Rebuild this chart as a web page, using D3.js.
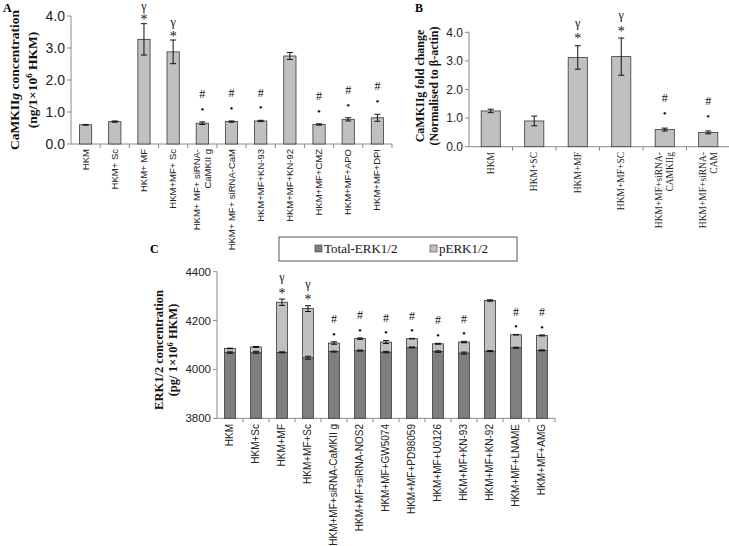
<!DOCTYPE html>
<html><head><meta charset="utf-8">
<script src="https://cdn.jsdelivr.net/npm/d3@7"></script>
<style>body{margin:0;background:#fff}svg{display:block}</style>
</head><body>
<script>
// ---------- Panel A data ----------
const catsA = ["HKM","HKM+ Sc","HKM+ MF","HKM+MF+ Sc","HKM+ MF+ siRNA-|CaMKII g","HKM+ MF+ siRNA-CaM","HKM+MF+KN-93","HKM+MF+KN-92","HKM+MF+CMZ","HKM+MF+APO","HKM+MF+DPI"];
const valsA = [0.60,0.70,3.27,2.88,0.65,0.70,0.72,2.75,0.61,0.77,0.82];
const errA  = [0.01,0.02,0.49,0.37,0.04,0.02,0.02,0.11,0.02,0.05,0.11];
const marksA = [[],[],["*","γ"],["*","γ"],["•","#"],["•","#"],["•","#"],[],["•","#"],["•","#"],["•","#"]];
const ticksA = [0,1,2,3,4];

// ---------- Panel B data ----------
const catsB = ["HKM","HKM+SC","HKM+MF","HKM+MF+SC","HKM+MF+siRNA-|CAMKIIg","HKM+MF+siRNA-|CAM"];
const valsB = [1.25,0.90,3.12,3.15,0.60,0.50];
const errB  = [0.06,0.17,0.41,0.65,0.05,0.05];
const marksB = [[],[],["*","γ"],["*","γ"],["•","#"],["•","#"]];
const ticksB = [0,1,2,3,4];

// ---------- Panel C data ----------
const catsC = ["HKM","HKM+Sc","HKM+MF","HKM+MF+Sc","HKM+MF+siRNA-CaMKII g","HKM+MF+siRNA-NOS2","HKM+MF+GW5074","HKM+MF+PD98059","HKM+MF+U0126","HKM+MF+KN-93","HKM+MF+KN-92","HKM+MF+LNAME","HKM+MF+AMG"];
const totalC = [4069,4070,4070,4048,4073,4077,4071,4090,4073,4067,4075,4089,4078];
const totalErrC = [3,4,2,6,2,2,3,2,3,4,2,2,2];
const pC = [17,22,205,201,35,49,41,36,32,45,207,53,61];
const pErrC = [1,2,13,12,5,3,6,1,2,3,3,1,2];
const marksC = [[],[],["*","γ"],["*","γ"],["•","#"],["•","#"],["•","#"],["•","#"],["•","#"],["•","#"],[],["•","#"],["•","#"]];
const ticksC = [3800,4000,4200,4400];
const seriesC = ["Total-ERK1/2","pERK1/2"];

const svg = d3.select("body").append("svg").attr("width",729).attr("height",546);
const AX = "#8a8a8a", BAR = "#c0c0c0", DARK = "#7f7f7f", EDGE = "#3a3a3a";
const serif = "'Liberation Serif','Times New Roman',serif";
const sans = "'Liberation Sans',Arial,sans-serif";

function axes(x, y, ticks, fmt, tickFont, tickSize, x0, x1, labFont, labSize, labY, lineGap) {
  const y0 = y.range()[0];
  svg.append("line").attr("x1",x0).attr("x2",x0).attr("y1",y0).attr("y2",y(ticks[ticks.length-1])).attr("stroke",AX);
  ticks.forEach(t=>{
    svg.append("line").attr("x1",x0-4).attr("x2",x0).attr("y1",y(t)).attr("y2",y(t)).attr("stroke",AX);
    svg.append("text").attr("x",x0-6).attr("y",y(t)).attr("dy","0.35em").attr("text-anchor","end")
      .attr("font-family",tickFont).attr("font-size",tickSize).attr("fill","#222").text(fmt(t));
  });
  svg.append("line").attr("x1",x0).attr("x2",x1).attr("y1",y0).attr("y2",y0).attr("stroke",AX);
  const dom = x.domain();
  dom.forEach((d,i)=>{
    const xe = x(d) - x.step()*x.paddingInner()/2 + x.step();
    svg.append("line").attr("x1",xe).attr("x2",xe).attr("y1",y0).attr("y2",y0+4).attr("stroke",AX);
    const lines = d.split("|");
    const cx = x(d)+x.bandwidth()/2;
    lines.forEach((ln,j)=>{
      const lx = cx + (j-(lines.length-1)/2)*lineGap + 3;
      svg.append("text").attr("transform",`translate(${lx},${labY}) rotate(-90)`)
        .attr("text-anchor","end").attr("font-family",labFont).attr("font-size",labSize).attr("fill","#222").text(ln);
    });
  });
}

function errBar(cx, yTop, yBot, cap) {
  svg.append("line").attr("x1",cx).attr("x2",cx).attr("y1",yTop).attr("y2",yBot).attr("stroke","#111");
  [yTop,yBot].forEach(yy=>svg.append("line").attr("x1",cx-cap).attr("x2",cx+cap).attr("y1",yy).attr("y2",yy).attr("stroke","#111"));
}

function marks(cx, yTop, mk, offs) {
  mk.forEach((m)=>{
    const o = offs[m];
    svg.append("text").attr("x",cx).attr("y",yTop-o).attr("dy", m==="*"?"0.55em": (m==="γ"?"0.2em":"0.35em"))
      .attr("text-anchor","middle").attr("font-family",serif)
      .attr("font-size", m==="•"?11:(m==="*"?14:12)).attr("fill","#111").text(m);
  });
}

function ylabel(cx, cy, l1, l2, gap, size) {
  const g = svg.append("g").attr("transform",`translate(${cx},${cy}) rotate(-90)`)
    .attr("font-family",serif).attr("font-weight","bold").attr("font-size",size).attr("text-anchor","middle").attr("fill","#111");
  const t1 = g.append("text").attr("y",0);
  l1.forEach(p=>t1.append("tspan").attr("font-style",p[1]?"italic":null).text(p[0]));
  const t2 = g.append("text").attr("y",gap);
  l2.forEach(p=>t2.append("tspan").attr("font-size",p[2]||null).attr("dy",p[3]||null).text(p[0]));
}

// ===== Panel A =====
{
  const x = d3.scaleBand().domain(catsA).range([71,392]).paddingInner(0.58).paddingOuter(0.29);
  const y = d3.scaleLinear().domain([0,4]).range([144,16]);
  axes(x,y,ticksA,d3.format(".1f"),sans,14,71,392,sans,9.5,149,11);
  catsA.forEach((c,i)=>{
    svg.append("rect").attr("x",x(c)).attr("y",y(valsA[i])).attr("width",x.bandwidth()).attr("height",y(0)-y(valsA[i]))
      .attr("fill",BAR).attr("stroke",EDGE).attr("stroke-width",0.8);
    const cx = x(c)+x.bandwidth()/2;
    errBar(cx, y(valsA[i]+errA[i]), y(valsA[i]-errA[i]), 3);
    marks(cx, y(valsA[i]+errA[i]), marksA[i], {"*":7,"γ":16,"•":13,"#":28});
  });
  svg.append("text").attr("x",3).attr("y",12).attr("font-family",serif).attr("font-weight","bold").attr("font-size",12).text("A");
  ylabel(19,80,[["CaMKII"],["g",true],[" concentration"]],[["(ng/1×10"],["6","",9,-5],[" HKM)","",null,5]],18,13.5);
}

// ===== Panel B =====
{
  const x = d3.scaleBand().domain(catsB).range([469,730]).paddingInner(0.56).paddingOuter(0.28);
  const y = d3.scaleLinear().domain([0,4]).range([146.7,32.3]);
  axes(x,y,ticksB,d3.format(".1f"),sans,12,469,730,serif,9.5,152,11);
  catsB.forEach((c,i)=>{
    svg.append("rect").attr("x",x(c)).attr("y",y(valsB[i])).attr("width",x.bandwidth()).attr("height",y(0)-y(valsB[i]))
      .attr("fill",BAR).attr("stroke",EDGE).attr("stroke-width",0.8);
    const cx = x(c)+x.bandwidth()/2;
    errBar(cx, y(valsB[i]+errB[i]), y(valsB[i]-errB[i]), 3);
    marks(cx, y(valsB[i]+errB[i]), marksB[i], {"*":10,"γ":21,"•":15,"#":30});
  });
  svg.append("text").attr("x",415).attr("y",12).attr("font-family",serif).attr("font-weight","bold").attr("font-size",12).text("B");
  ylabel(424,86,[["CaMKIIg fold change"]],[["(Normalised to β-actin)"]],14,12);
}

// ===== Panel C =====
{
  const x = d3.scaleBand().domain(catsC).range([217,555]).paddingInner(0.58).paddingOuter(0.29);
  const y = d3.scaleLinear().domain([3800,4400]).range([418.3,271.7]);
  axes(x,y,ticksC,d3.format("d"),sans,11.5,217,555,sans,10,424,11);
  catsC.forEach((c,i)=>{
    const top = totalC[i]+pC[i];
    svg.append("rect").attr("x",x(c)).attr("y",y(totalC[i])).attr("width",x.bandwidth()).attr("height",y(3800)-y(totalC[i]))
      .attr("fill",DARK).attr("stroke",EDGE).attr("stroke-width",0.8);
    svg.append("rect").attr("x",x(c)).attr("y",y(top)).attr("width",x.bandwidth()).attr("height",y(totalC[i])-y(top))
      .attr("fill",BAR).attr("stroke",EDGE).attr("stroke-width",0.8);
    const cx = x(c)+x.bandwidth()/2;
    errBar(cx, y(totalC[i]+totalErrC[i]), y(totalC[i]-totalErrC[i]), 3);
    errBar(cx, y(top+pErrC[i]), y(top-pErrC[i]), 3);
    marks(cx, y(top+pErrC[i]), marksC[i], {"*":9,"γ":20,"•":8,"#":23});
  });
  svg.append("text").attr("x",150).attr("y",253).attr("font-family",serif).attr("font-weight","bold").attr("font-size",12).text("C");
  ylabel(163,350,[["ERK1/2 concentration"]],[["(pg/ 1×10"],["6","",8.5,-4],[" HKM)","",null,4]],14,12.5);
  svg.append("rect").attr("x",279).attr("y",237).attr("width",238).attr("height",24).attr("fill","#fff").attr("stroke","#555");
  const lx = [315,430];
  seriesC.forEach((s,i)=>{
    svg.append("rect").attr("x",lx[i]).attr("y",245).attr("width",7).attr("height",7)
      .attr("fill",i===0?DARK:BAR).attr("stroke",EDGE).attr("stroke-width",0.6);
    svg.append("text").attr("x",lx[i]+9).attr("y",253).attr("font-family",serif).attr("font-size",13).attr("fill","#111").text(s);
  });
}
</script>
</body></html>
